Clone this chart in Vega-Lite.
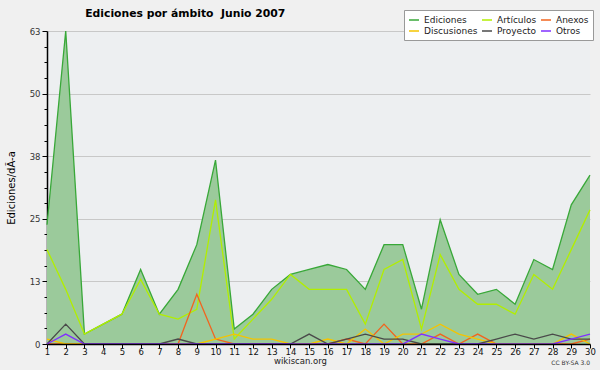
{
  "$schema": "https://vega.github.io/schema/vega-lite/v6.json",
  "width": 543,
  "height": 313,
  "autosize": {"type": "none"},
  "padding": {"left": 47, "top": 31, "right": 10, "bottom": 26},
  "background": "#f0f0f0",
  "config": {
    "view": {"fill": "#edeff1", "stroke": null},
    "font": "DejaVu Sans",
    "axis": {"labelOverlap": false}
  },
  "title": {
    "text": "Ediciones por ámbito \u00a0Junio 2007",
    "anchor": "start",
    "dx": 79,
    "dy": 20,
    "offset": 11,
    "font": "DejaVu Sans",
    "fontSize": 10.8,
    "fontWeight": "bold",
    "color": "#000000"
  },
  "datasets": {
    "dias": [
      {"d": 1, "Ediciones": 24, "Artículos": 19, "Anexos": 0, "Discusiones": 1, "Proyecto": 0, "Otros": 0},
      {"d": 2, "Ediciones": 63, "Artículos": 11, "Anexos": 0, "Discusiones": 0, "Proyecto": 4, "Otros": 2},
      {"d": 3, "Ediciones": 2, "Artículos": 2, "Anexos": 0, "Discusiones": 0, "Proyecto": 0, "Otros": 0},
      {"d": 4, "Ediciones": 4, "Artículos": 4, "Anexos": 0, "Discusiones": 0, "Proyecto": 0, "Otros": 0},
      {"d": 5, "Ediciones": 6, "Artículos": 6, "Anexos": 0, "Discusiones": 0, "Proyecto": 0, "Otros": 0},
      {"d": 6, "Ediciones": 15, "Artículos": 13, "Anexos": 0, "Discusiones": 0, "Proyecto": 0, "Otros": 0},
      {"d": 7, "Ediciones": 6, "Artículos": 6, "Anexos": 0, "Discusiones": 0, "Proyecto": 0, "Otros": 0},
      {"d": 8, "Ediciones": 11, "Artículos": 5, "Anexos": 0, "Discusiones": 0, "Proyecto": 1, "Otros": 0},
      {"d": 9, "Ediciones": 20, "Artículos": 7, "Anexos": 10, "Discusiones": 0, "Proyecto": 0, "Otros": 0},
      {"d": 10, "Ediciones": 37, "Artículos": 29, "Anexos": 1, "Discusiones": 1, "Proyecto": 0, "Otros": 0},
      {"d": 11, "Ediciones": 3, "Artículos": 1, "Anexos": 0, "Discusiones": 2, "Proyecto": 0, "Otros": 0},
      {"d": 12, "Ediciones": 6, "Artículos": 5, "Anexos": 0, "Discusiones": 1, "Proyecto": 0, "Otros": 0},
      {"d": 13, "Ediciones": 11, "Artículos": 9, "Anexos": 0, "Discusiones": 1, "Proyecto": 0, "Otros": 0},
      {"d": 14, "Ediciones": 14, "Artículos": 14, "Anexos": 0, "Discusiones": 0, "Proyecto": 0, "Otros": 0},
      {"d": 15, "Ediciones": 15, "Artículos": 11, "Anexos": 0, "Discusiones": 0, "Proyecto": 2, "Otros": 0},
      {"d": 16, "Ediciones": 16, "Artículos": 11, "Anexos": 0, "Discusiones": 1, "Proyecto": 0, "Otros": 0},
      {"d": 17, "Ediciones": 15, "Artículos": 11, "Anexos": 1, "Discusiones": 0, "Proyecto": 1, "Otros": 0},
      {"d": 18, "Ediciones": 11, "Artículos": 4, "Anexos": 0, "Discusiones": 3, "Proyecto": 2, "Otros": 0},
      {"d": 19, "Ediciones": 20, "Artículos": 15, "Anexos": 4, "Discusiones": 0, "Proyecto": 1, "Otros": 0},
      {"d": 20, "Ediciones": 20, "Artículos": 17, "Anexos": 0, "Discusiones": 2, "Proyecto": 1, "Otros": 0},
      {"d": 21, "Ediciones": 7, "Artículos": 3, "Anexos": 0, "Discusiones": 2, "Proyecto": 0, "Otros": 2},
      {"d": 22, "Ediciones": 25, "Artículos": 18, "Anexos": 2, "Discusiones": 4, "Proyecto": 0, "Otros": 1},
      {"d": 23, "Ediciones": 14, "Artículos": 11, "Anexos": 0, "Discusiones": 2, "Proyecto": 0, "Otros": 0},
      {"d": 24, "Ediciones": 10, "Artículos": 8, "Anexos": 2, "Discusiones": 1, "Proyecto": 0, "Otros": 0},
      {"d": 25, "Ediciones": 11, "Artículos": 8, "Anexos": 0, "Discusiones": 0, "Proyecto": 1, "Otros": 0},
      {"d": 26, "Ediciones": 8, "Artículos": 6, "Anexos": 0, "Discusiones": 0, "Proyecto": 2, "Otros": 0},
      {"d": 27, "Ediciones": 17, "Artículos": 14, "Anexos": 0, "Discusiones": 0, "Proyecto": 1, "Otros": 0},
      {"d": 28, "Ediciones": 15, "Artículos": 11, "Anexos": 0, "Discusiones": 0, "Proyecto": 2, "Otros": 0},
      {"d": 29, "Ediciones": 28, "Artículos": 19, "Anexos": 0, "Discusiones": 2, "Proyecto": 1, "Otros": 1},
      {"d": 30, "Ediciones": 34, "Artículos": 27, "Anexos": 1, "Discusiones": 0, "Proyecto": 1, "Otros": 2}
    ]
  },
  "encoding": {
    "x": {
      "field": "d", "type": "quantitative",
      "scale": {"domain": [1, 30], "nice": false, "zero": false},
      "axis": {
        "values": [1,2,3,4,5,6,7,8,9,10,11,12,13,14,15,16,17,18,19,20,21,22,23,24,25,26,27,28,29,30],
        "format": "d",
        "grid": false,
        "zindex": 1,
        "domainColor": "#000000",
        "domainWidth": 1.5,
        "tickColor": "#000000",
        "tickSize": 4,
        "labelPadding": -1,
        "labelFont": "DejaVu Sans",
        "labelFontSize": 8.5,
        "labelColor": "#111111",
        "labelFlush": false,
        "labelOverlap": false,
        "labelSeparation": 0,
        "title": "wikiscan.org",
        "titleFont": "DejaVu Sans",
        "titleFontSize": 8.5,
        "titleFontWeight": "normal",
        "titleColor": "#222222",
        "titleX": 253,
        "titleY": 19,
        "titleAlign": "center",
        "titleBaseline": "alphabetic"
      }
    },
    "y": {
      "field": "v", "type": "quantitative",
      "scale": {"domain": [0, 63], "nice": false, "zero": true},
      "axis": {
        "values": [0, 3.15, 6.3, 9.45, 12.6, 15.75, 18.9, 22.05, 25.2, 28.35, 31.5, 34.65, 37.8, 40.95, 44.1, 47.25, 50.4, 53.55, 56.7, 59.85, 63],
        "labelExpr": "abs(datum.value/12.6 - round(datum.value/12.6)) < 0.001 ? format(round(datum.value), 'd') : ''",
        "tickSize": {"condition": {"test": "abs(datum.value/12.6 - round(datum.value/12.6)) < 0.001", "value": 5}, "value": 3},
        "gridOpacity": {"condition": {"test": "abs(datum.value/12.6 - round(datum.value/12.6)) < 0.001 && datum.value > 0", "value": 1}, "value": 0},
        "grid": true,
        "gridColor": "#c8c8c8",
        "gridWidth": 1,
        "domainColor": "#000000",
        "domainWidth": 1.5,
        "tickColor": "#000000",
        "labelPadding": 2,
        "labelFont": "DejaVu Sans",
        "labelFontSize": 8.5,
        "labelColor": "#333333",
        "labelFlush": false,
        "labelOverlap": false,
        "title": "Ediciones/dÃ-a",
        "titleFont": "DejaVu Sans",
        "titleFontSize": 10,
        "titleFontWeight": "normal",
        "titleColor": "#000000",
        "titlePadding": 13
      }
    }
  },
  "layer": [
    {
      "data": {"name": "dias"},
      "transform": [
        {"fold": ["Ediciones"], "as": ["serie", "v"]}
      ],
      "mark": {"type": "area", "color": "#9bca9b", "opacity": 1}
    },
    {
      "data": {"name": "dias"},
      "transform": [
        {"fold": ["Ediciones", "Artículos", "Anexos", "Discusiones", "Proyecto", "Otros"], "as": ["serie", "v"]}
      ],
      "mark": {"type": "line", "strokeWidth": 1.3},
      "encoding": {
        "color": {
          "field": "serie", "type": "nominal",
          "scale": {
            "domain": ["Ediciones", "Artículos", "Anexos", "Discusiones", "Proyecto", "Otros"],
            "range": ["#38a838", "#b2ee00", "#f2641e", "#f5c400", "#4a4a4a", "#8030ff"]
          },
          "legend": {
            "title": null,
            "orient": "none",
            "legendX": 357,
            "legendY": -21,
            "columns": 3,
            "direction": "horizontal",
            "columnPadding": 1,
            "rowPadding": 0,
            "padding": 4,
            "fillColor": "#ffffff",
            "strokeColor": "#999999",
            "symbolType": "stroke",
            "symbolSize": 100,
            "symbolStrokeWidth": 1.5,
            "labelFont": "DejaVu Sans",
            "labelFontSize": 9,
            "labelColor": "#222222",
            "labelOffset": 4,
            "labelLimit": 0
          }
        },
        "order": {"field": "d", "type": "quantitative"}
      }
    },
    {
      "data": {"values": [{"d": 30, "v": 0, "t": "CC BY-SA 3.0"}]},
      "mark": {"type": "text", "align": "right", "baseline": "alphabetic", "dy": 21, "fontSize": 6, "font": "DejaVu Sans", "color": "#333333"},
      "encoding": {
        "text": {"field": "t"}
      }
    }
  ]
}
